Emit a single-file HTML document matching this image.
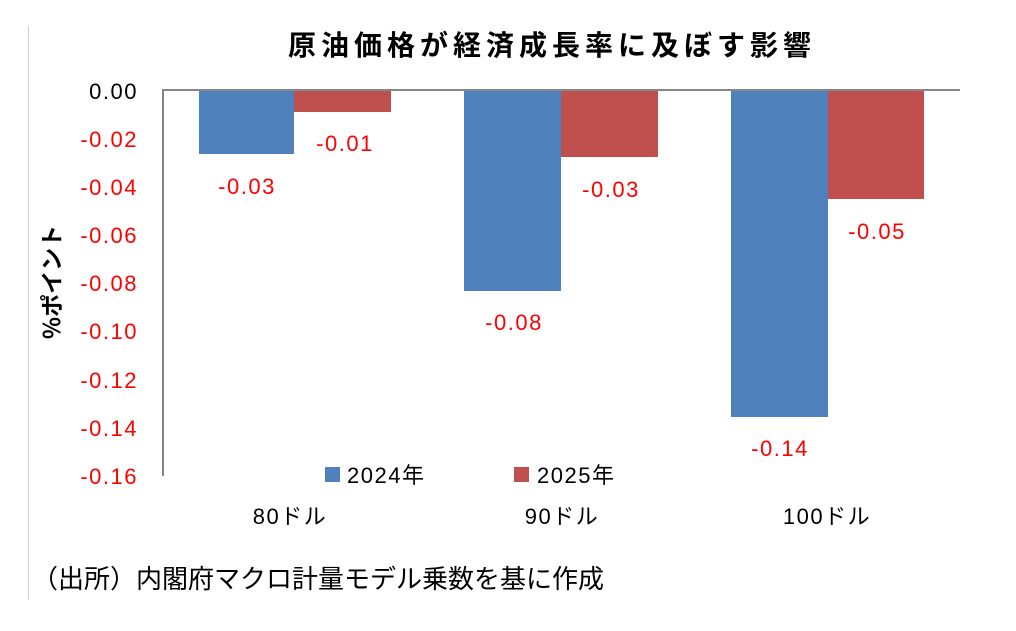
<!DOCTYPE html>
<html><head><meta charset="utf-8"><style>
html,body{margin:0;padding:0;background:#fff;}
svg text{font-family:"Liberation Sans","Noto Sans CJK JP",sans-serif;}
</style></head><body>
<svg width="1016" height="626" xmlns="http://www.w3.org/2000/svg">
<rect width="1016" height="626" fill="#fff"/>
<line x1="28.5" y1="26" x2="28.5" y2="600" stroke="#d0d0d0" stroke-width="1"/>
<text x="552" y="55" text-anchor="middle" font-size="28" font-weight="bold" letter-spacing="5" fill="#000" style="font-family:'Noto Sans CJK JP',sans-serif">原油価格が経済成長率に及ぼす影響</text>
<g fill="#4f81bd">
<rect x="199" y="90" width="95" height="64"/>
<rect x="464" y="90" width="97" height="201"/>
<rect x="731" y="90" width="97" height="327"/>
</g>
<g fill="#c0504d">
<rect x="294" y="90" width="97" height="22"/>
<rect x="561" y="90" width="97" height="67"/>
<rect x="828" y="90" width="96" height="109"/>
</g>
<line x1="163" y1="90" x2="960" y2="90" stroke="#868686" stroke-width="2"/>
<line x1="163" y1="89" x2="163" y2="476" stroke="#868686" stroke-width="2"/>
<g font-size="22" letter-spacing="1.5" text-anchor="end" fill="#ff0000">
<text x="138" y="99" fill="#000">0.00</text>
<text x="138" y="147">-0.02</text>
<text x="138" y="195">-0.04</text>
<text x="138" y="243">-0.06</text>
<text x="138" y="291">-0.08</text>
<text x="138" y="339">-0.10</text>
<text x="138" y="388">-0.12</text>
<text x="138" y="436">-0.14</text>
<text x="138" y="484">-0.16</text>
</g>
<text transform="translate(60,282) rotate(-90)" text-anchor="middle" font-size="23" font-weight="bold" fill="#000" style="font-family:'Noto Sans CJK JP',sans-serif">%ポイント</text>
<g font-size="22" letter-spacing="1.5" text-anchor="middle" fill="#ff0000">
<text x="247" y="194">-0.03</text>
<text x="345" y="151">-0.01</text>
<text x="514" y="330">-0.08</text>
<text x="611" y="197">-0.03</text>
<text x="780" y="456">-0.14</text>
<text x="877" y="239">-0.05</text>
</g>
<rect x="325" y="467" width="15" height="15" fill="#4f81bd"/>
<text x="347" y="483" font-size="22" letter-spacing="1.5" fill="#000">2024年</text>
<rect x="514" y="467" width="15" height="15" fill="#c0504d"/>
<text x="537" y="483" font-size="22" letter-spacing="1.5" fill="#000">2025年</text>
<g font-size="22" letter-spacing="1.5" text-anchor="middle" fill="#000">
<text x="290" y="524">80ドル</text>
<text x="562" y="524">90ドル</text>
<text x="827" y="524">100ドル</text>
</g>
<text x="32" y="588" font-size="26" fill="#000" style="font-family:'Noto Sans CJK JP',sans-serif">（出所）内閣府マクロ計量モデル乗数を基に作成</text>
</svg>
</body></html>
